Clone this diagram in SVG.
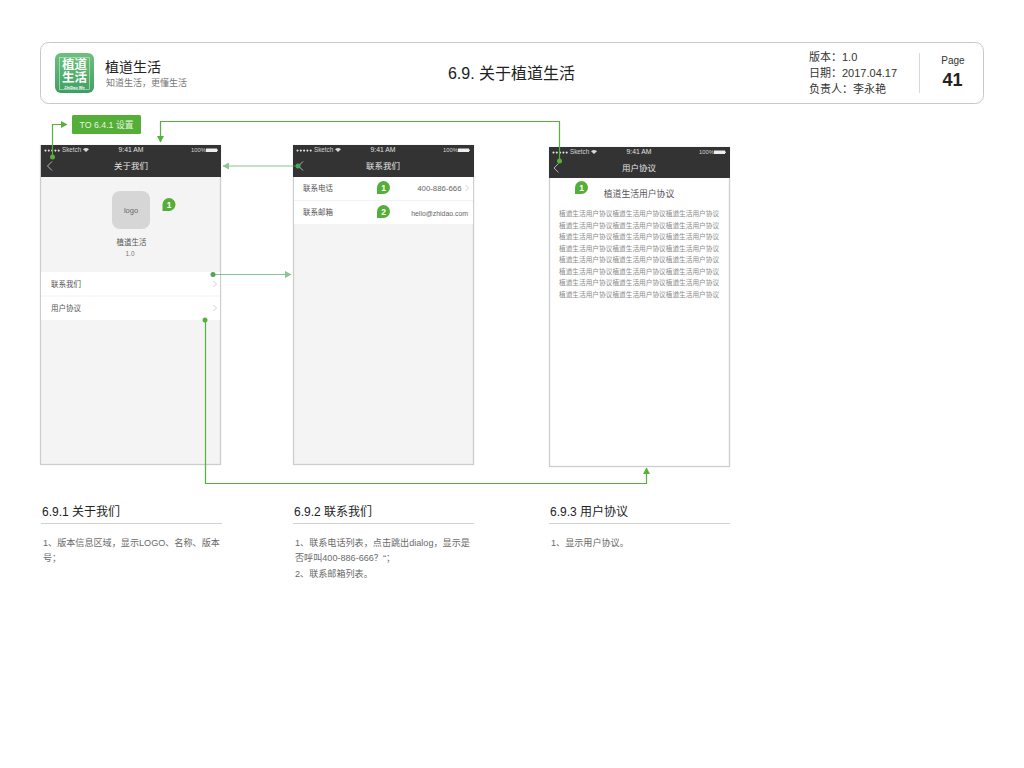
<svg xmlns="http://www.w3.org/2000/svg" width="1024" height="768" viewBox="0 0 1024 768">
<defs>
<linearGradient id="icon" x1="0" y1="0" x2="0" y2="1"><stop offset="0" stop-color="#6cc27c"/><stop offset="1" stop-color="#3f9f63"/></linearGradient>
<marker id="ag" markerUnits="userSpaceOnUse" markerWidth="7" markerHeight="7" refX="6" refY="3.500" orient="auto"><path d="M0 0L6.500 3.500L0 7Z" fill="#55b13a"/></marker>
<marker id="am" markerUnits="userSpaceOnUse" markerWidth="7" markerHeight="7" refX="6" refY="3.500" orient="auto"><path d="M0 0L6.500 3.500L0 7Z" fill="#4ba55a"/></marker>
<path id="bub" d="M0 6.500A6.500 6.500 0 1 1 6.500 13L0 13Z" fill="#55ae37"/>
<g id="status">
<path d="M4.500 4.500a1 1 0 1 0 .01 0M7.800 4.500a1 1 0 1 0 .01 0M11.100 4.500a1 1 0 1 0 .01 0M14.400 4.500a1 1 0 1 0 .01 0M17.700 4.500a1 1 0 1 0 .01 0" fill="#e0e0e0"/>
<path d="M42 4.200Q45 1.800 48 4.200L45 7Z" fill="#d8d8d8"/>
<rect x="165" y="3.500" width="11" height="3.500" fill="#eee"/>
<rect x="176" y="4.500" width=".8" height="1.500" fill="#eee"/>
</g>
</defs>
<style>
text{font-family:"Liberation Sans","Noto Sans CJK SC",sans-serif}
.screen{fill:#f4f4f4;stroke:#cdcdcd;stroke-width:1.300}
.bar{fill:#333}
.st{font-size:6.300px;fill:#d4d4d4}
.pc{font-size:5.800px;fill:#d4d4d4}
.tm{font-size:6.800px;fill:#e0e0e0;text-anchor:middle}
.nt{font-size:8.500px;fill:#e4e4e4;text-anchor:middle}
.row{font-size:7.500px;fill:#555}
.bk{fill:none;stroke:#d4d4d4;stroke-width:.8}
.chev{fill:none;stroke:#c4c4c4;stroke-width:.8}
.sep{stroke:#f2f2f2;stroke-width:1}
.h{font-size:12px;fill:#222}
.d{font-size:9.100px;fill:#6a6a6a}
.rule{stroke:#d2d2d2;stroke-width:1}
.num{font-size:8.500px;font-weight:bold;fill:#fff;text-anchor:middle}
.body{font-size:6.680px;fill:#8a8a8a}
.g{fill:none;stroke:#55b13a;stroke-width:1.200}
.m{fill:none;stroke:#4ba55a;stroke-width:1.200;opacity:.65}
.hd{font-size:11px;fill:#333}
</style>

<g id="header">
<rect x="40.500" y="42.500" width="943" height="61" rx="8" fill="#fff" stroke="#c8c8c8"/>
<rect x="55" y="53" width="39" height="40" rx="6" fill="url(#icon)"/>
<rect x="59.500" y="57.500" width="30" height="32" fill="none" stroke="#cfe9d4" stroke-width=".6"/>
<text x="74.500" y="69" font-size="12.500" font-weight="bold" fill="#fff" text-anchor="middle">植道</text>
<text x="74.500" y="81.500" font-size="12.500" font-weight="bold" fill="#fff" text-anchor="middle">生活</text>
<text x="74.500" y="88.800" font-size="4" font-weight="bold" fill="#fff" text-anchor="middle">ZhiDao We</text>
<text x="105" y="72" font-size="14" fill="#222">植道生活</text>
<text x="106" y="85.500" font-size="9" fill="#777">知道生活，更懂生活</text>
<text x="511.500" y="79" font-size="16" fill="#222" text-anchor="middle">6.9. 关于植道生活</text>
<text x="809" y="61" class="hd">版本：1.0</text>
<text x="809" y="77" class="hd">日期：2017.04.17</text>
<text x="809" y="93" class="hd">负责人：李永艳</text>
<line x1="919.500" y1="53" x2="919.500" y2="93" stroke="#d8d8d8"/>
<text x="953" y="64" font-size="10" fill="#333" text-anchor="middle">Page</text>
<text x="952.500" y="86" font-size="18" font-weight="bold" fill="#222" text-anchor="middle">41</text>
</g>

<g id="to-button">
<rect x="72" y="115" width="69" height="19" rx="1.500" fill="#55ae37"/>
<text x="106.500" y="127.500" font-size="8.800" fill="#e8f5e0" text-anchor="middle">TO 6.4.1 设置</text>
</g>

<g id="screen-about">
<rect class="screen" x="40.500" y="145.500" width="180" height="319"/>
<rect class="bar" x="41" y="145" width="180" height="32"/>
<use href="#status" x="41" y="145"/>
<text class="st" x="62" y="152">Sketch</text>
<text class="tm" x="131" y="152">9:41 AM</text>
<text class="pc" x="191" y="152">100%</text>
<path d="M52 161.500L47.500 166L52 170.500" class="bk"/>
<text class="nt" x="131" y="169">关于我们</text>
<rect x="112" y="191" width="38" height="38" rx="8" fill="#d6d6d6"/>
<text x="131" y="213" font-size="7.500" fill="#666" text-anchor="middle">logo</text>
<use href="#bub" x="162.500" y="198"/>
<text class="num" x="169" y="208">1</text>
<text x="131.500" y="245" font-size="7.500" fill="#555" text-anchor="middle">植道生活</text>
<text x="130" y="256" font-size="6.500" fill="#777" text-anchor="middle">1.0</text>
<rect x="41" y="272" width="179" height="48" fill="#fff"/>
<line class="sep" x1="41" y1="296" x2="220" y2="296"/>
<text class="row" x="51" y="287">联系我们</text>
<text class="row" x="51" y="311">用户协议</text>
<path class="chev" d="M213.500 281L216.500 284L213.500 287M213.500 305L216.500 308L213.500 311"/>
</g>

<g id="screen-contact">
<rect class="screen" x="293.500" y="145.500" width="180" height="319"/>
<rect class="bar" x="293" y="145" width="181" height="32"/>
<use href="#status" x="293" y="145"/>
<text class="st" x="314" y="152">Sketch</text>
<text class="tm" x="383" y="152">9:41 AM</text>
<text class="pc" x="443" y="152">100%</text>
<path d="M303 161.500L298.500 166L303 170.500" class="bk"/>
<text class="nt" x="383" y="169">联系我们</text>
<rect x="294" y="177" width="179" height="47" fill="#fff"/>
<line class="sep" x1="294" y1="200.500" x2="473" y2="200.500"/>
<text class="row" x="303" y="191">联系电话</text>
<text class="row" x="303" y="215">联系邮箱</text>
<use href="#bub" x="377" y="181"/>
<text class="num" x="383.500" y="191">1</text>
<use href="#bub" x="377" y="205"/>
<text class="num" x="383.500" y="215">2</text>
<text x="461.500" y="190.500" font-size="7.800" fill="#666" text-anchor="end">400-886-666</text>
<path class="chev" d="M465.500 185L468.500 188L465.500 191"/>
<text x="468" y="216" font-size="6.900" fill="#666" text-anchor="end">hello@zhidao.com</text>
</g>

<g id="screen-agreement">
<rect x="549.500" y="147.500" width="180" height="319" fill="#fff" stroke="#cdcdcd" stroke-width="1.300"/>
<rect class="bar" x="549" y="147" width="181" height="31"/>
<use href="#status" x="549" y="147"/>
<text class="st" x="570" y="154">Sketch</text>
<text class="tm" x="639" y="154">9:41 AM</text>
<text class="pc" x="699" y="154">100%</text>
<path d="M558.500 163.500L554 168L558.500 172.500" class="bk"/>
<text class="nt" x="639" y="171">用户协议</text>
<use href="#bub" x="575" y="181"/>
<text class="num" x="581.500" y="191">1</text>
<text x="639" y="197" font-size="8.800" fill="#555" text-anchor="middle">植道生活用户协议</text>
<text class="body" x="559" y="216">植道生活用户协议植道生活用户协议植道生活用户协议</text>
<text class="body" x="559" y="227.500">植道生活用户协议植道生活用户协议植道生活用户协议</text>
<text class="body" x="559" y="239">植道生活用户协议植道生活用户协议植道生活用户协议</text>
<text class="body" x="559" y="250.500">植道生活用户协议植道生活用户协议植道生活用户协议</text>
<text class="body" x="559" y="262">植道生活用户协议植道生活用户协议植道生活用户协议</text>
<text class="body" x="559" y="273.500">植道生活用户协议植道生活用户协议植道生活用户协议</text>
<text class="body" x="559" y="285">植道生活用户协议植道生活用户协议植道生活用户协议</text>
<text class="body" x="559" y="296.500">植道生活用户协议植道生活用户协议植道生活用户协议</text>
</g>

<g id="connectors">
<path class="g" d="M52.500 157V124.500H67" marker-end="url(#ag)"/>
<circle cx="52.500" cy="157" r="2.500" fill="#55b13a"/>
<path class="g" d="M559.500 161V121.500H160.500V142" marker-end="url(#ag)"/>
<circle cx="559.500" cy="161" r="2.500" fill="#55b13a"/>
<path class="m" d="M298 166H223" marker-end="url(#am)"/>
<circle cx="298" cy="166" r="2.500" fill="#4ba55a"/>
<path class="m" d="M213 274.500H291" marker-end="url(#am)"/>
<circle cx="213" cy="274.500" r="2.500" fill="#4ba55a"/>
<path class="g" d="M205.500 320V483.500H646.500V468" marker-end="url(#ag)"/>
<circle cx="205" cy="320" r="2.500" fill="#55b13a"/>
</g>

<g id="note-1">
<text class="h" x="42" y="516">6.9.1 关于我们</text>
<line class="rule" x1="41" y1="523.500" x2="222" y2="523.500"/>
<text class="d" x="43" y="546">1、版本信息区域，显示LOGO、名称、版本</text>
<text class="d" x="43" y="561">号；</text>
</g>
<g id="note-2">
<text class="h" x="294" y="516">6.9.2 联系我们</text>
<line class="rule" x1="293" y1="523.500" x2="474" y2="523.500"/>
<text class="d" x="295" y="546">1、联系电话列表，点击跳出dialog，显示是</text>
<text class="d" x="295" y="561">否呼叫400-886-666？“；</text>
<text class="d" x="295" y="577">2、联系邮箱列表。</text>
</g>
<g id="note-3">
<text class="h" x="550" y="516">6.9.3 用户协议</text>
<line class="rule" x1="549" y1="523.500" x2="730" y2="523.500"/>
<text class="d" x="551" y="546">1、显示用户协议。</text>
</g>
</svg>
